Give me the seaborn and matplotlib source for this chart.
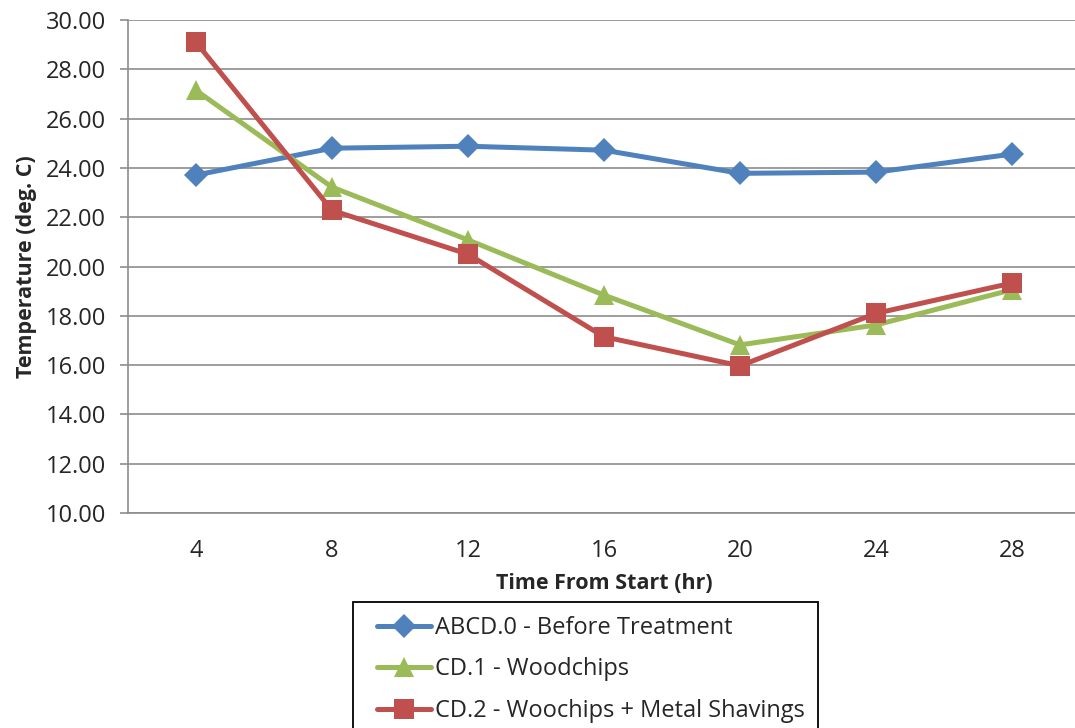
import matplotlib
matplotlib.use("Agg")
import matplotlib.pyplot as plt
from matplotlib.patches import Rectangle
import seaborn as sns
import pandas as pd

hours = [4, 8, 12, 16, 20, 24, 28]
before_treatment = [23.71, 24.80, 24.88, 24.72, 23.78, 23.83, 24.56]
woodchips = [27.15, 23.22, 21.08, 18.84, 16.82, 17.63, 19.06]
woodchips_metal = [29.10, 22.28, 20.50, 17.15, 15.97, 18.10, 19.33]

series_names = [
    "ABCD.0 - Before Treatment",
    "CD.1 - Woodchips",
    "CD.2 - Woochips + Metal Shavings",
]
series_values = [before_treatment, woodchips, woodchips_metal]

frames = []
for name, vals in zip(series_names, series_values):
    frames.append(pd.DataFrame({"Time": hours, "Temperature": vals, "Series": name}))
df = pd.concat(frames, ignore_index=True)

sns.set_theme(style="white")
plt.rcParams["font.family"] = ["Open Sans", "DejaVu Sans"]

palette = {
    series_names[0]: "#4F81BD",
    series_names[1]: "#9BBB59",
    series_names[2]: "#C0504D",
}
markers = {series_names[0]: "D", series_names[1]: "^", series_names[2]: "s"}
sizes = {series_names[0]: 12, series_names[1]: 14.5, series_names[2]: 14.5}

fig = plt.figure(figsize=(10.75, 7.28), dpi=100)
ax = fig.add_axes([0.119, 0.2953, 0.8857, 0.6772])

for name in series_names:
    sub = df[df["Series"] == name]
    sns.lineplot(
        data=sub, x="Time", y="Temperature", ax=ax,
        color=palette[name], marker=markers[name], markersize=sizes[name],
        markeredgewidth=0, linewidth=3.6, label=name, sort=False,
    )

ax.set_xlim(2, 30)
ax.set_ylim(10, 30)
ax.set_xticks(hours)
ax.set_xticklabels([str(h) for h in hours])
ax.set_yticks([10 + 2 * i for i in range(11)])
ax.set_yticklabels([f"{10 + 2 * i:.2f}" for i in range(11)])

ax.grid(axis="y", color="#8C8C8C", linewidth=1.2)
ax.grid(axis="x", visible=False)
ax.set_axisbelow(True)
for side in ["top", "right"]:
    ax.spines[side].set_visible(False)
for side in ["left", "bottom"]:
    ax.spines[side].set_color("#8C8C8C")
    ax.spines[side].set_linewidth(1.2)

ax.tick_params(axis="y", which="major", direction="out", length=6, width=1.2,
               color="#8C8C8C", labelsize=17, pad=10, left=True)
ax.tick_params(axis="x", which="major", length=0, labelsize=17, pad=19)

ax.set_xlabel("Time From Start (hr)", fontsize=15.5, fontweight="bold", labelpad=7)
ax.set_ylabel("Temperature (deg. C)", fontsize=15.5, fontweight="bold", labelpad=6)

if ax.legend_:
    ax.legend_.remove()
handles, labels = ax.get_legend_handles_labels()

# legend border, open at the bottom edge of the figure
box = Rectangle((353 / 1075, -0.05), (818 - 353) / 1075, 0.05 + 1 - 602 / 728,
                transform=fig.transFigure, fill=False, edgecolor="black",
                linewidth=1.3, clip_on=False)
fig.patches.append(box)

leg = fig.legend(
    handles, labels, loc="upper left", bbox_to_anchor=(377 / 1075, 1 - 616 / 728),
    frameon=False, fontsize=17, labelspacing=0.74,
    handlelength=2.3, handletextpad=0.15, borderpad=0, borderaxespad=0,
)

fig.savefig("out.png", dpi=100)
